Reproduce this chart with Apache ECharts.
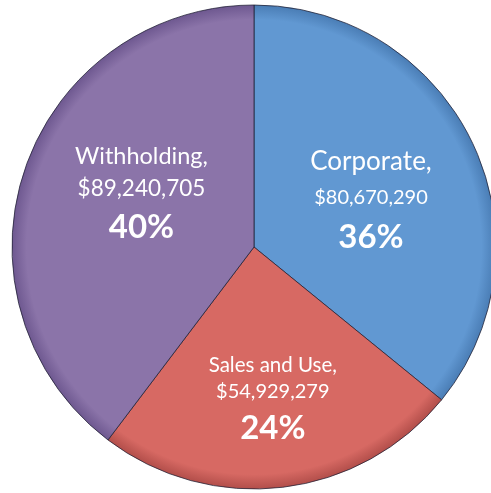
<!DOCTYPE html>
<html>
<head>
<meta charset="utf-8">
<script src="https://cdn.jsdelivr.net/npm/echarts@6/dist/echarts.min.js"></script>
<style>
html,body{margin:0;padding:0;background:#fff;}
#chart{width:491px;height:493px;}
</style>
</head>
<body>
<div id="chart"></div>
<script>
var categories = ['Corporate', 'Sales and Use', 'Withholding'];
var values = [80670290, 54929279, 89240705];
var percentLabels = ['36%', '24%', '40%'];
var valueLabels = ['$80,670,290', '$54,929,279', '$89,240,705'];

var baseColors = ['#6198D2', '#D76963', '#8B74A9'];
var edgeColors = ['#4A7DB5', '#B24E4A', '#6E5890'];
var CX = 254, CY = 247, R = 242;
// per-slice label styling (sizes/offsets kept separate from data)
var labelStyles = [
  {name: 26, val: 20, lhN: 35, lhV: 37, lhP: 44, offset: [5, 8]},
  {name: 20.5, val: 20, lhN: 25, lhV: 28, lhP: 46, offset: [4, 32]},
  {name: 23.5, val: 22.5, lhN: 30, lhV: 34, lhP: 44, offset: [5, -12]}
];

var chart = echarts.init(document.getElementById('chart'), null, {renderer: 'canvas'});
var data = categories.map(function (c, i) {
  var s = labelStyles[i];
  return {
    name: c,
    value: values[i],
    itemStyle: {
      color: {
        type: 'radial', x: CX, y: CY, r: R, global: true,
        colorStops: [
          {offset: 0, color: baseColors[i]},
          {offset: 0.94, color: baseColors[i]},
          {offset: 1, color: edgeColors[i]}
        ]
      }
    },
    label: {
      offset: s.offset,
      formatter: '{n|' + c + ',}\n{v|' + valueLabels[i] + '}\n{p|' + percentLabels[i] + '}',
      rich: {
        n: {fontSize: s.name, lineHeight: s.lhN, color: '#fff', fontFamily: 'Lato'},
        v: {fontSize: s.val, lineHeight: s.lhV, color: '#fff', fontFamily: 'Lato'},
        p: {fontSize: 33, lineHeight: s.lhP, color: '#fff', fontWeight: 'bold', fontFamily: 'Lato'}
      }
    }
  };
});

chart.setOption({
  animation: false,
  backgroundColor: '#ffffff',
  series: [{
    type: 'pie',
    center: [CX, CY],
    radius: [0, R],
    startAngle: 90,
    clockwise: true,
    avoidLabelOverlap: false,
    itemStyle: {borderColor: 'rgba(30,30,50,0.75)', borderWidth: 1},
    label: {show: true, position: 'inside', align: 'center'},
    labelLine: {show: false},
    emphasis: {disabled: true},
    data: data
  }]
});
</script>
</body>
</html>
